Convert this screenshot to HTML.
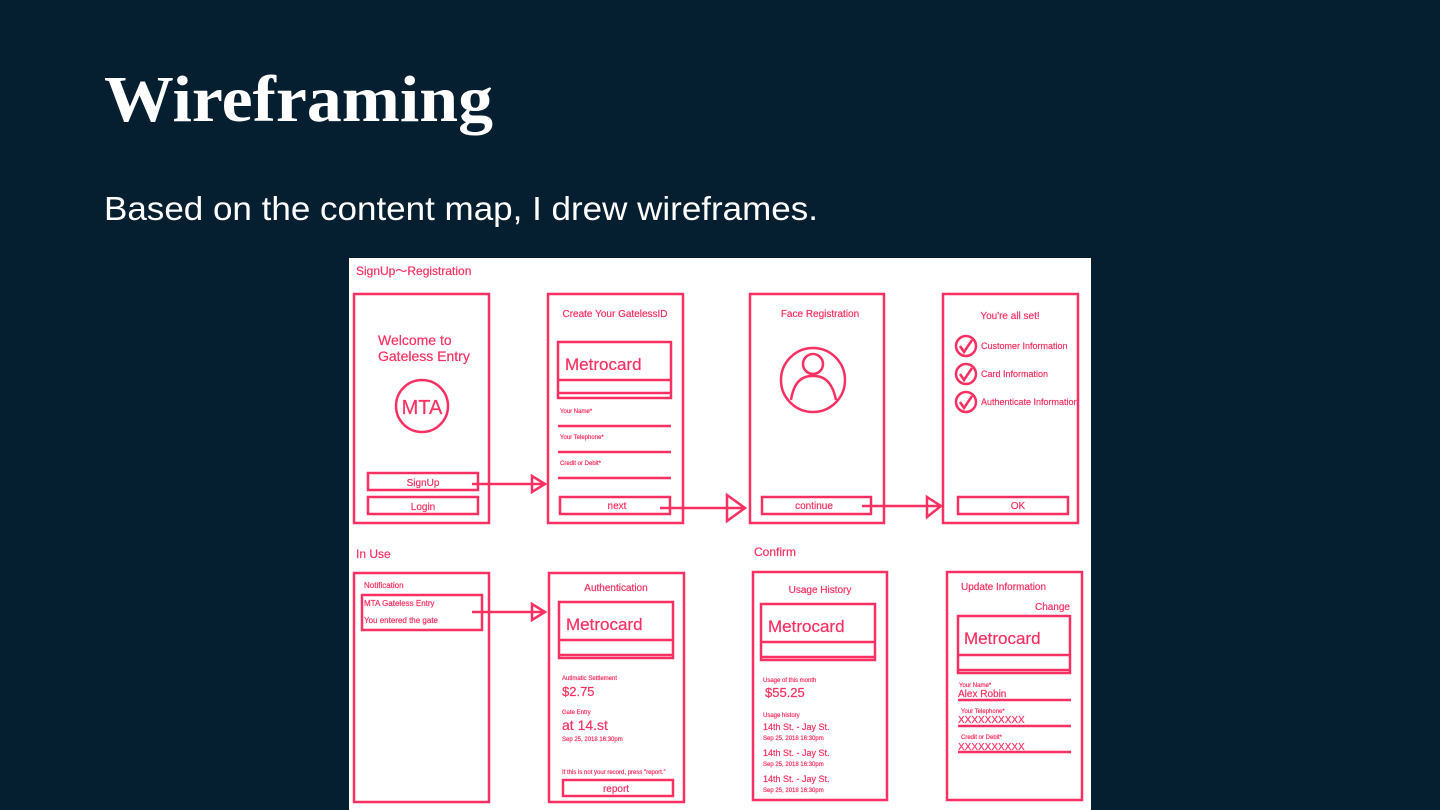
<!DOCTYPE html>
<html><head><meta charset="utf-8"><style>
html,body{margin:0;padding:0;width:1440px;height:810px;overflow:hidden;background:#051f31;}
</style></head><body>
<svg width="1440" height="810" xmlns="http://www.w3.org/2000/svg" style="position:absolute;left:0;top:0">
<rect width="1440" height="810" fill="#051f31"/>
<text x="104" y="121" font-family="Liberation Serif, serif" font-weight="bold" font-size="66" fill="#fff" textLength="389" lengthAdjust="spacingAndGlyphs">Wireframing</text>
<text x="104" y="220" font-family="Liberation Sans, sans-serif" font-size="33" fill="#fff" textLength="714" lengthAdjust="spacingAndGlyphs">Based on the content map, I drew wireframes.</text>
<rect x="349" y="258" width="742" height="552" fill="#fff"/>
<g fill="none" stroke="#fb3062" stroke-width="2.5">
<rect x="354" y="294" width="135" height="229"/>
<rect x="548" y="294" width="135" height="229"/>
<rect x="750" y="294" width="134" height="229"/>
<rect x="943" y="294" width="135" height="229"/>
<rect x="368" y="473" width="110" height="17"/>
<rect x="368" y="497" width="110" height="17"/>
<rect x="560" y="497" width="110" height="17"/>
<rect x="762" y="497" width="109" height="17"/>
<rect x="958" y="497" width="110" height="17"/>
<circle cx="422" cy="406" r="26"/>
<rect x="558" y="342" width="113" height="56"/><line x1="558" y1="380" x2="671" y2="380"/><line x1="558" y1="393" x2="671" y2="393"/>
<line x1="558" y1="426" x2="671" y2="426"/><line x1="558" y1="452" x2="671" y2="452"/><line x1="558" y1="478" x2="671" y2="478"/>
<circle cx="813" cy="380" r="32"/><circle cx="813" cy="364" r="10"/><path d="M791,400 Q795,375 813,376 Q831,375 836,400"/>
<circle cx="966" cy="346" r="10"/><circle cx="966" cy="374" r="10"/><circle cx="966" cy="402" r="10"/>
<path d="M960,346 l4,6 l8,-12 M960,374 l4,6 l8,-12 M960,402 l4,6 l8,-12"/>
<path d="M472,484 H545 M532,476 L545,484 L532,492 Z"/>
<path d="M660,508 H745 M727,495 L745,508 L727,521 Z"/>
<path d="M862,506 H941 M927,497 L941,506 L927,517 Z"/>
<rect x="354" y="573" width="135" height="229"/>
<rect x="549" y="573" width="135" height="229"/>
<rect x="753" y="572" width="134" height="228"/>
<rect x="947" y="572" width="135" height="228"/>
<rect x="362" y="595" width="120" height="35"/>
<path d="M472,612 H545 M532,604 L545,612 L532,620 Z"/>
<rect x="559" y="602" width="114" height="56"/><line x1="559" y1="640" x2="673" y2="640"/><line x1="559" y1="655" x2="673" y2="655"/>
<rect x="563" y="780" width="110" height="16"/>
<rect x="761" y="604" width="114" height="56"/><line x1="761" y1="642" x2="875" y2="642"/><line x1="761" y1="657" x2="875" y2="657"/>
<rect x="958" y="616" width="112" height="57"/><line x1="958" y1="655" x2="1070" y2="655"/><line x1="958" y1="670" x2="1070" y2="670"/>
<line x1="958" y1="700" x2="1071" y2="700"/><line x1="958" y1="726" x2="1071" y2="726"/><line x1="958" y1="752" x2="1071" y2="752"/>
</g>
<g fill="#fb3062" font-family="Liberation Sans, sans-serif" stroke="#fb3062" stroke-width="0.2">
<text x="356" y="275" font-size="12">SignUp〜Registration</text>
<text x="356" y="558" font-size="12">In Use</text>
<text x="754" y="556" font-size="12">Confirm</text>
<text x="378" y="345" font-size="14">Welcome to</text>
<text x="378" y="361" font-size="14">Gateless Entry</text>
<text x="422" y="414" font-size="20" text-anchor="middle">MTA</text>
<text x="423" y="486" font-size="10" text-anchor="middle">SignUp</text>
<text x="423" y="510" font-size="10" text-anchor="middle">Login</text>
<text x="615" y="317" font-size="10" text-anchor="middle">Create Your GatelessID</text>
<text x="565" y="370" font-size="17">Metrocard</text>
<text x="560" y="413" font-size="6">Your Name*</text>
<text x="560" y="439" font-size="6">Your Telephone*</text>
<text x="560" y="465" font-size="6">Credit or Debit*</text>
<text x="617" y="509" font-size="10" text-anchor="middle">next</text>
<text x="820" y="317" font-size="10" text-anchor="middle">Face Registration</text>
<text x="814" y="509" font-size="10" text-anchor="middle">continue</text>
<text x="1010" y="319" font-size="10" text-anchor="middle">You're all set!</text>
<text x="981" y="349" font-size="9">Customer Information</text>
<text x="981" y="377" font-size="9">Card Information</text>
<text x="981" y="405" font-size="9">Authenticate Information</text>
<text x="1018" y="509" font-size="10" text-anchor="middle">OK</text>
<text x="364" y="588" font-size="8">Notification</text>
<text x="364" y="606" font-size="8">MTA Gateless Entry</text>
<text x="364" y="623" font-size="8">You entered the gate</text>
<text x="616" y="591" font-size="10" text-anchor="middle">Authentication</text>
<text x="566" y="630" font-size="17">Metrocard</text>
<text x="562" y="680" font-size="6">Autimatic Settlement</text>
<text x="562" y="696" font-size="13">$2.75</text>
<text x="562" y="714" font-size="6">Gate Entry</text>
<text x="562" y="730" font-size="14">at 14.st</text>
<text x="562" y="741" font-size="6">Sep 25, 2018 16:30pm</text>
<text x="562" y="774" font-size="6">If this is not your record, press "report."</text>
<text x="616" y="792" font-size="10" text-anchor="middle">report</text>
<text x="820" y="593" font-size="10" text-anchor="middle">Usage History</text>
<text x="768" y="632" font-size="17">Metrocard</text>
<text x="763" y="682" font-size="6">Usage of this month</text>
<text x="765" y="697" font-size="13">$55.25</text>
<text x="763" y="717" font-size="6">Usage history</text>
<text x="763" y="730" font-size="9">14th St. - Jay St.</text>
<text x="763" y="740" font-size="6">Sep 25, 2018 16:30pm</text>
<text x="763" y="756" font-size="9">14th St. - Jay St.</text>
<text x="763" y="766" font-size="6">Sep 25, 2018 16:30pm</text>
<text x="763" y="782" font-size="9">14th St. - Jay St.</text>
<text x="763" y="792" font-size="6">Sep 25, 2018 16:30pm</text>
<text x="961" y="590" font-size="10">Update Information</text>
<text x="1070" y="610" font-size="10" text-anchor="end">Change</text>
<text x="964" y="644" font-size="17">Metrocard</text>
<text x="959" y="687" font-size="6">Your Name*</text>
<text x="958" y="697" font-size="10">Alex Robin</text>
<text x="961" y="713" font-size="6">Your Telephone*</text>
<text x="958" y="723" font-size="10">XXXXXXXXXX</text>
<text x="961" y="739" font-size="6">Credit or Debit*</text>
<text x="958" y="750" font-size="10">XXXXXXXXXX</text>
</g>
</svg>
</body></html>
